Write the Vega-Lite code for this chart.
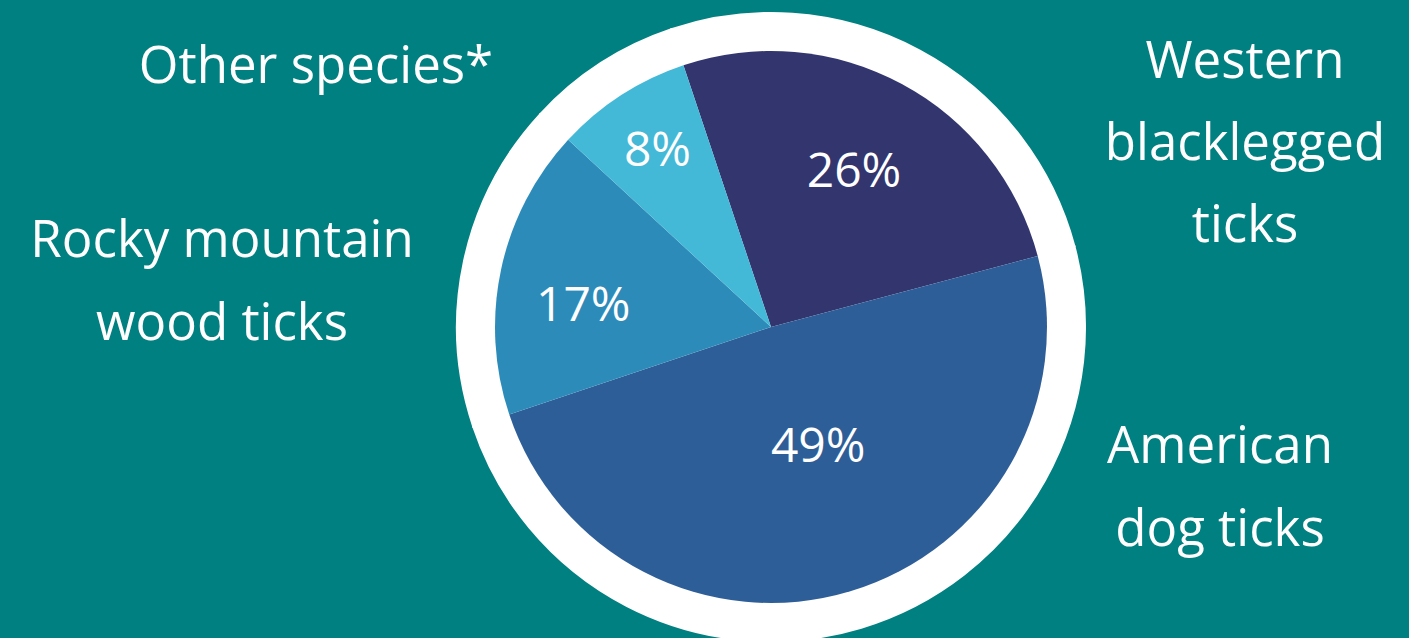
{
  "$schema": "https://vega.github.io/schema/vega-lite/v6.json",
  "width": 1276,
  "height": 622,
  "autosize": {"type": "none"},
  "padding": {"left": 133, "top": 16, "right": 0, "bottom": 0},
  "background": "#008080",
  "config": {"view": {"stroke": null}, "text": {"font": "Open Sans", "color": "white"}},
  "datasets": {
    "slices": [
      {"species": "Western blacklegged ticks", "value": 26, "pct": "26%", "rank": 1},
      {"species": "American dog ticks", "value": 49, "pct": "49%", "rank": 2},
      {"species": "Rocky mountain wood ticks", "value": 17, "pct": "17%", "rank": 3},
      {"species": "Other species*", "value": 8, "pct": "8%", "rank": 4}
    ],
    "labels": [
      {"species": "Western blacklegged ticks", "lines": ["Western", "blacklegged", "ticks"]},
      {"species": "American dog ticks", "lines": ["American", "dog ticks"]},
      {"species": "Rocky mountain wood ticks", "lines": ["Rocky mountain", "wood ticks"]},
      {"species": "Other species*", "lines": ["Other species*"]}
    ]
  },
  "layer": [
    {
      "data": {"name": "slices"},
      "mark": {"type": "arc", "radius": 314, "color": "white", "stroke": "white", "strokeWidth": 2},
      "encoding": {
        "theta": {"field": "value", "type": "quantitative", "stack": true, "scale": {"range": [-0.3229, 5.9603]}},
        "order": {"field": "rank", "type": "quantitative"}
      }
    },
    {
      "data": {"name": "slices"},
      "mark": {"type": "arc", "radius": 276},
      "encoding": {
        "theta": {"field": "value", "type": "quantitative", "stack": true},
        "order": {"field": "rank", "type": "quantitative"},
        "color": {
          "field": "species", "type": "nominal", "legend": null,
          "scale": {
            "domain": ["Western blacklegged ticks", "American dog ticks", "Rocky mountain wood ticks", "Other species*"],
            "range": ["#32356e", "#2e5e98", "#2d8bba", "#43b8d7"]
          }
        }
      }
    },
    {
      "data": {"name": "slices"},
      "mark": {"type": "text", "radius": 175, "fontSize": 48, "baseline": "middle"},
      "encoding": {
        "theta": {"field": "value", "type": "quantitative", "stack": true},
        "order": {"field": "rank", "type": "quantitative"},
        "text": {"condition": {"test": "datum.pct == '26%'", "field": "pct", "type": "nominal"}, "value": ""}
      }
    },
    {
      "data": {"name": "slices"},
      "mark": {"type": "text", "radius": 209, "fontSize": 48, "baseline": "middle"},
      "encoding": {
        "theta": {"field": "value", "type": "quantitative", "stack": true},
        "order": {"field": "rank", "type": "quantitative"},
        "text": {"condition": {"test": "datum.pct == '8%'", "field": "pct", "type": "nominal"}, "value": ""}
      }
    },
    {
      "data": {"name": "slices"},
      "mark": {"type": "text", "radius": 192, "dy": 20, "fontSize": 48, "baseline": "middle"},
      "encoding": {
        "theta": {"field": "value", "type": "quantitative", "stack": true},
        "order": {"field": "rank", "type": "quantitative"},
        "text": {"condition": {"test": "datum.pct == '17%'", "field": "pct", "type": "nominal"}, "value": ""}
      }
    },
    {
      "data": {"name": "slices"},
      "mark": {"type": "text", "radius": 126, "dx": 11, "fontSize": 48, "baseline": "middle"},
      "encoding": {
        "theta": {"field": "value", "type": "quantitative", "stack": true},
        "order": {"field": "rank", "type": "quantitative"},
        "text": {"condition": {"test": "datum.pct == '49%'", "field": "pct", "type": "nominal"}, "value": ""}
      }
    },
    {
      "data": {"name": "labels"},
      "transform": [{"filter": "datum.species == 'Western blacklegged ticks'"}],
      "mark": {"type": "text", "dx": 474, "dy": -249, "fontSize": 51, "lineHeight": 82, "baseline": "alphabetic", "align": "center"},
      "encoding": {"text": {"field": "lines"}}
    },
    {
      "data": {"name": "labels"},
      "transform": [{"filter": "datum.species == 'American dog ticks'"}],
      "mark": {"type": "text", "dx": 449, "dy": 136, "fontSize": 51, "lineHeight": 83, "baseline": "alphabetic", "align": "center"},
      "encoding": {"text": {"field": "lines"}}
    },
    {
      "data": {"name": "labels"},
      "transform": [{"filter": "datum.species == 'Rocky mountain wood ticks'"}],
      "mark": {"type": "text", "dx": -549, "dy": -70, "fontSize": 51, "lineHeight": 83, "baseline": "alphabetic", "align": "center"},
      "encoding": {"text": {"field": "lines"}}
    },
    {
      "data": {"name": "labels"},
      "transform": [{"filter": "datum.species == 'Other species*'"}],
      "mark": {"type": "text", "dx": -455, "dy": -244, "fontSize": 51, "baseline": "alphabetic", "align": "center"},
      "encoding": {"text": {"field": "lines"}}
    }
  ]
}
